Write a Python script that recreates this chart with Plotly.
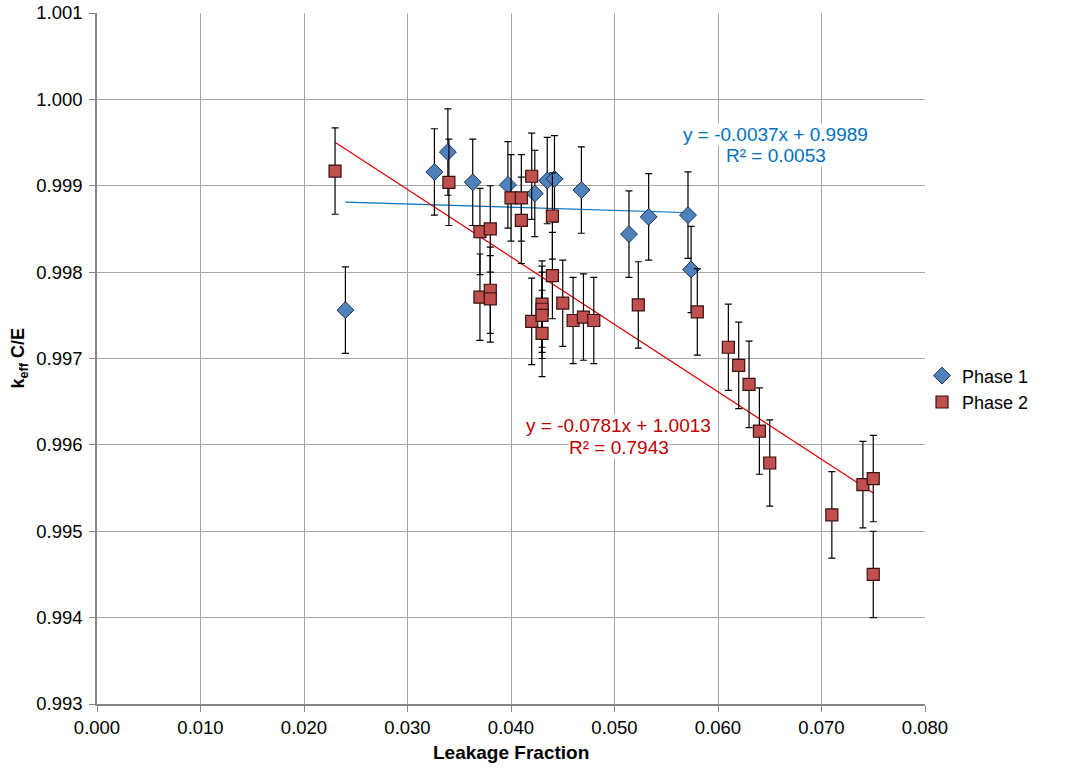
import plotly.graph_objects as go

# Phase 1 data
p1_x = [0.0240, 0.0326, 0.0339, 0.0363, 0.0397, 0.0423, 0.0435, 0.0442, 0.0468,
        0.0514, 0.0533, 0.0571, 0.0574]
p1_y = [0.99756, 0.99916, 0.99939, 0.99904, 0.99901, 0.99891, 0.99906, 0.99908, 0.99895,
        0.99844, 0.99864, 0.99866, 0.99803]
p1_err = [0.0005] * len(p1_x)

# Phase 2 data
p2_x = [0.023, 0.034, 0.037, 0.038, 0.037, 0.038, 0.038, 0.040, 0.041, 0.041,
        0.042, 0.044, 0.044, 0.042, 0.043, 0.043, 0.043, 0.043, 0.045, 0.046,
        0.047, 0.048, 0.0523, 0.058, 0.061, 0.062, 0.063, 0.064, 0.065, 0.071,
        0.074, 0.075, 0.075]
p2_y = [0.99917, 0.99904, 0.99847, 0.99850, 0.99771, 0.99779, 0.99769, 0.99886, 0.99886, 0.99860,
        0.99911, 0.99865, 0.99796, 0.99743, 0.99763, 0.99757, 0.99750, 0.99729, 0.99764, 0.99744,
        0.99748, 0.99744, 0.99762, 0.99754, 0.99713, 0.99692, 0.99670, 0.99616, 0.99579, 0.99519,
        0.99554, 0.99561, 0.99450]
p2_err = [0.0005] * len(p2_x)

# Trendline coefficients (as printed on the chart)
p1_slope, p1_int, p1_r2 = -0.0037, 0.9989, 0.0053
p2_slope, p2_int, p2_r2 = -0.0781, 1.0013, 0.7943

x_ticks = [0.000, 0.010, 0.020, 0.030, 0.040, 0.050, 0.060, 0.070, 0.080]
y_ticks = [0.993, 0.994, 0.995, 0.996, 0.997, 0.998, 0.999, 1.000, 1.001]

BLUE_TXT = "#0070C0"
RED_TXT = "#C00000"
FONT = "Liberation Sans, Arial, sans-serif"

fig = go.Figure()

# trendlines
t1x = [min(p1_x), max(p1_x)]
t2x = [min(p2_x), max(p2_x)]
fig.add_trace(go.Scatter(x=t1x, y=[p1_slope * v + p1_int for v in t1x], mode="lines",
                         line=dict(color="#0070C0", width=1.2), showlegend=False, hoverinfo="skip"))
fig.add_trace(go.Scatter(x=t2x, y=[p2_slope * v + p2_int for v in t2x], mode="lines",
                         line=dict(color="#E00000", width=1.2), showlegend=False, hoverinfo="skip"))

fig.add_trace(go.Scatter(
    x=p1_x, y=p1_y, mode="markers", name="Phase 1",
    marker=dict(symbol="diamond", size=13, color="#4F81BD", line=dict(color="#1F2F4A", width=1)),
    error_y=dict(type="data", array=p1_err, visible=True, color="#000000", thickness=1.2, width=3.5),
))
fig.add_trace(go.Scatter(
    x=p2_x, y=p2_y, mode="markers", name="Phase 2",
    marker=dict(symbol="square", size=12, color="#C0504D", line=dict(color="#3A1010", width=1.2)),
    error_y=dict(type="data", array=p2_err, visible=True, color="#000000", thickness=1.2, width=3.5),
))

# trendline labels (each line as its own annotation for exact line spacing)
def label(x, y, txt, color):
    fig.add_annotation(x=x, y=y, xref="x", yref="y", showarrow=False,
                       xanchor="center", yanchor="middle", text=txt,
                       font=dict(family=FONT, size=19, color=color), bgcolor="white",
                       borderpad=0)

label(0.0656, 0.99959, f"y = {p1_slope:.4f}x + {p1_int:.4f}", BLUE_TXT)
label(0.0656, 0.99935, f"R² = {p1_r2:.4f}", BLUE_TXT)
label(0.05043, 0.99623, f"y = {p2_slope:.4f}x + {p2_int:.4f}", RED_TXT)
label(0.05043, 0.99597, f"R² = {p2_r2:.4f}", RED_TXT)

# y-axis title placed as a rotated annotation
fig.add_annotation(x=-0.093, y=0.5, xref="paper", yref="paper", showarrow=False,
                   xanchor="center", yanchor="middle",
                   text="<b>k<sub>eff</sub> C/E</b>", textangle=-90,
                   font=dict(family=FONT, size=18, color="#000"))

axis_common = dict(showgrid=True, gridcolor="#A6A6A6", gridwidth=1,
                   showline=True, linecolor="#868686", linewidth=1.5,
                   ticks="outside", ticklen=6, tickcolor="#868686",
                   zeroline=False, automargin=False,
                   tickfont=dict(family=FONT, size=18.5, color="#000000"))

fig.update_xaxes(range=[0.0, 0.080], tickvals=x_ticks, ticktext=[f"{v:.3f}" for v in x_ticks],
                 **axis_common)
fig.update_yaxes(range=[0.993, 1.001], tickvals=y_ticks, ticktext=[f"{v:.3f}" for v in y_ticks],
                 ticklabelstandoff=3, **axis_common)

# x-axis title as annotation for exact placement
fig.add_annotation(x=0.5, y=-0.0709, xref="paper", yref="paper", showarrow=False,
                   xanchor="center", yanchor="middle",
                   text="<b>Leakage Fraction</b>", font=dict(family=FONT, size=19, color="#000"))

fig.update_layout(
    width=1066, height=769,
    margin=dict(l=97, r=141, t=13, b=65),
    paper_bgcolor="white", plot_bgcolor="white",
    font=dict(family=FONT, size=18, color="#000"),
    legend=dict(x=0.9964, y=0.456, xanchor="left", yanchor="middle",
                font=dict(family=FONT, size=18, color="#000"), itemwidth=30, tracegroupgap=4,
                bgcolor="rgba(0,0,0,0)"),
)

fig.write_html("out.html")
